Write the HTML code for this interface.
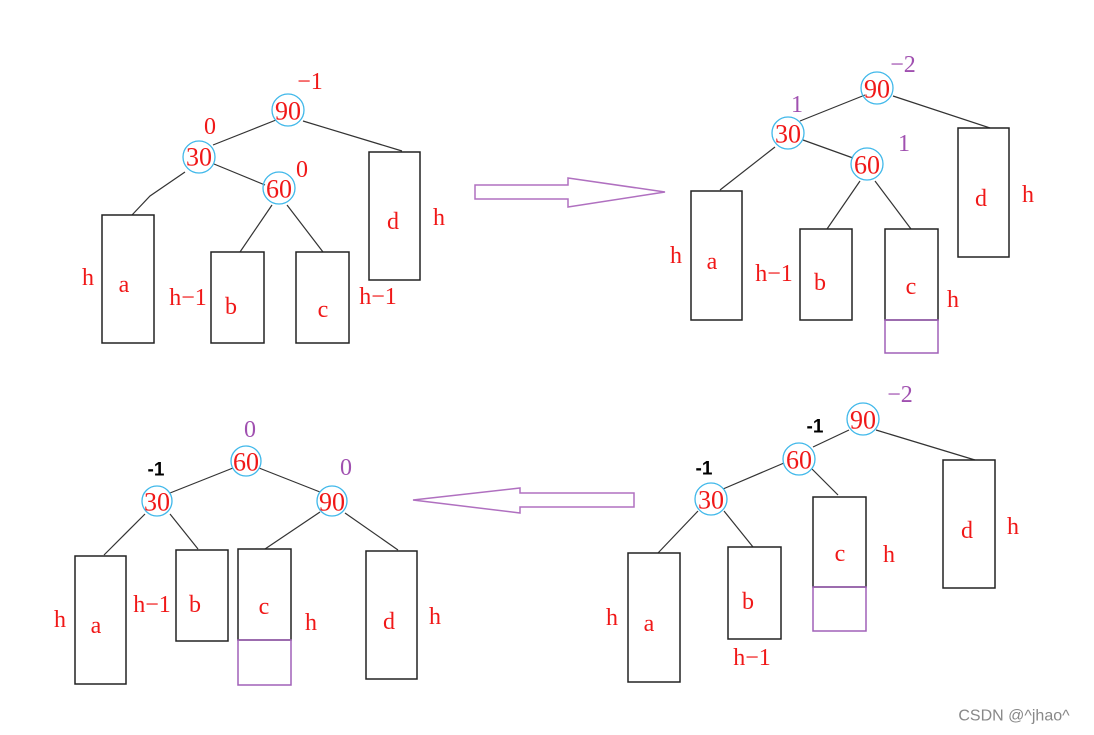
<!DOCTYPE html>
<html><head><meta charset="utf-8"><style>
html,body{margin:0;padding:0;background:#fff;}
svg{display:block;}
.t{font-family:"Liberation Serif",serif;font-size:24px;fill:#f01818;text-anchor:middle;dominant-baseline:central;}
.p{font-family:"Liberation Serif",serif;font-size:24px;fill:#a050b0;text-anchor:middle;dominant-baseline:central;}
.k{font-family:"Liberation Sans",sans-serif;font-size:19px;font-weight:bold;fill:#000;text-anchor:middle;dominant-baseline:central;}
.n{font-family:"Liberation Serif",serif;font-size:26px;fill:#f01818;text-anchor:middle;dominant-baseline:central;}
circle{fill:none;stroke:#40b8ea;stroke-width:1.3;}
rect.b{fill:none;stroke:#222;stroke-width:1.5;}
rect.q{fill:none;stroke:#a060b8;stroke-width:1.5;}
line,polyline{stroke:#333;stroke-width:1.2;fill:none;}
</style></head><body>
<svg width="1094" height="735" viewBox="0 0 1094 735">
<!-- TOP LEFT -->
<line x1="276" y1="120" x2="213" y2="145"/><line x1="303" y1="121" x2="402" y2="151"/>
<line x1="214" y1="164" x2="265" y2="185"/><polyline points="185,172 150,196 132,215"/>
<line x1="272" y1="205" x2="240" y2="252"/><line x1="287" y1="205" x2="323" y2="252"/>
<rect class="b" x="102" y="215" width="52" height="128"/><rect class="b" x="211" y="252" width="53" height="91"/>
<rect class="b" x="296" y="252" width="53" height="91"/><rect class="b" x="369" y="152" width="51" height="128"/>
<circle cx="288" cy="110" r="16"/><circle cx="199" cy="157" r="16"/><circle cx="279" cy="188" r="16"/>
<text class="n" x="288" y="111">90</text><text class="n" x="199" y="157">30</text><text class="n" x="279" y="189">60</text>
<text class="t" x="310" y="82">−1</text><text class="t" x="210" y="127">0</text><text class="t" x="302" y="170">0</text>
<text class="t" x="88" y="278">h</text><text class="t" x="124" y="285">a</text><text class="t" x="188" y="298">h−1</text>
<text class="t" x="231" y="307">b</text><text class="t" x="323" y="310">c</text><text class="t" x="378" y="297">h−1</text>
<text class="t" x="393" y="222">d</text><text class="t" x="439" y="218">h</text>
<!-- top arrow -->
<polygon points="475,185 568,185 568,178 665,192 568,207 568,199 475,199" fill="none" stroke="#b070c0" stroke-width="1.5"/>
<!-- TOP RIGHT -->
<line x1="865" y1="95" x2="800" y2="121"/><line x1="893" y1="96" x2="990" y2="128"/>
<line x1="803" y1="140" x2="853" y2="158"/><line x1="775" y1="147" x2="720" y2="190"/>
<line x1="860" y1="181" x2="827" y2="229"/><line x1="875" y1="181" x2="911" y2="229"/>
<rect class="b" x="691" y="191" width="51" height="129"/><rect class="b" x="800" y="229" width="52" height="91"/>
<rect class="b" x="885" y="229" width="53" height="91"/><rect class="q" x="885" y="320" width="53" height="33"/>
<rect class="b" x="958" y="128" width="51" height="129"/>
<circle cx="877" cy="88" r="16"/><circle cx="788" cy="133" r="16"/><circle cx="867" cy="164" r="16"/>
<text class="n" x="877" y="89">90</text><text class="n" x="788" y="134">30</text><text class="n" x="867" y="165">60</text>
<text class="p" x="903" y="65">−2</text><text class="p" x="797" y="105">1</text><text class="p" x="904" y="144">1</text>
<text class="t" x="676" y="256">h</text><text class="t" x="712" y="262">a</text><text class="t" x="774" y="274">h−1</text>
<text class="t" x="820" y="283">b</text><text class="t" x="911" y="287">c</text><text class="t" x="953" y="300">h</text>
<text class="t" x="981" y="199">d</text><text class="t" x="1028" y="195">h</text>
<!-- BOTTOM RIGHT -->
<line x1="849" y1="430" x2="813" y2="447"/><line x1="784" y1="463" x2="723" y2="489"/>
<line x1="876" y1="430" x2="975" y2="460"/><line x1="812" y1="469" x2="838" y2="495"/>
<line x1="698" y1="511" x2="658" y2="553"/><line x1="724" y1="511" x2="753" y2="547"/>
<rect class="b" x="628" y="553" width="52" height="129"/><rect class="b" x="728" y="547" width="53" height="92"/>
<rect class="b" x="813" y="497" width="53" height="90"/><rect class="q" x="813" y="587" width="53" height="44"/>
<rect class="b" x="943" y="460" width="52" height="128"/>
<circle cx="863" cy="419" r="16"/><circle cx="799" cy="459" r="16"/><circle cx="711" cy="499" r="16"/>
<text class="n" x="863" y="420">90</text><text class="n" x="799" y="460">60</text><text class="n" x="711" y="500">30</text>
<text class="p" x="900" y="395">−2</text><text class="k" x="815" y="427">-1</text><text class="k" x="704" y="469">-1</text>
<text class="t" x="612" y="618">h</text><text class="t" x="649" y="624">a</text><text class="t" x="748" y="602">b</text>
<text class="t" x="752" y="658">h−1</text><text class="t" x="840" y="554">c</text><text class="t" x="889" y="555">h</text>
<text class="t" x="967" y="531">d</text><text class="t" x="1013" y="527">h</text>
<!-- bottom arrow -->
<polygon points="634,493 520,493 520,488 413,500 520,513 520,507 634,507" fill="none" stroke="#b070c0" stroke-width="1.5"/>
<!-- BOTTOM LEFT -->
<line x1="233" y1="468" x2="170" y2="493"/><line x1="259" y1="468" x2="320" y2="492"/>
<line x1="145" y1="514" x2="104" y2="555"/><line x1="170" y1="514" x2="198" y2="549"/>
<line x1="320" y1="512" x2="265" y2="549"/><line x1="345" y1="513" x2="398" y2="550"/>
<rect class="b" x="75" y="556" width="51" height="128"/><rect class="b" x="176" y="550" width="52" height="91"/>
<rect class="b" x="238" y="549" width="53" height="91"/><rect class="q" x="238" y="640" width="53" height="45"/>
<rect class="b" x="366" y="551" width="51" height="128"/>
<circle cx="246" cy="461" r="15"/><circle cx="157" cy="501" r="15"/><circle cx="332" cy="501" r="15"/>
<text class="n" x="246" y="462">60</text><text class="n" x="157" y="502">30</text><text class="n" x="332" y="502">90</text>
<text class="p" x="250" y="430">0</text><text class="k" x="156" y="470">-1</text><text class="p" x="346" y="468">0</text>
<text class="t" x="60" y="620">h</text><text class="t" x="96" y="626">a</text><text class="t" x="152" y="605">h−1</text>
<text class="t" x="195" y="605">b</text><text class="t" x="264" y="607">c</text><text class="t" x="311" y="623">h</text>
<text class="t" x="389" y="622">d</text><text class="t" x="435" y="617">h</text>
<text x="1014" y="716" font-family="Liberation Sans, sans-serif" font-size="16" fill="#888" text-anchor="middle" dominant-baseline="central">CSDN @^jhao^</text>
</svg>
</body></html>
